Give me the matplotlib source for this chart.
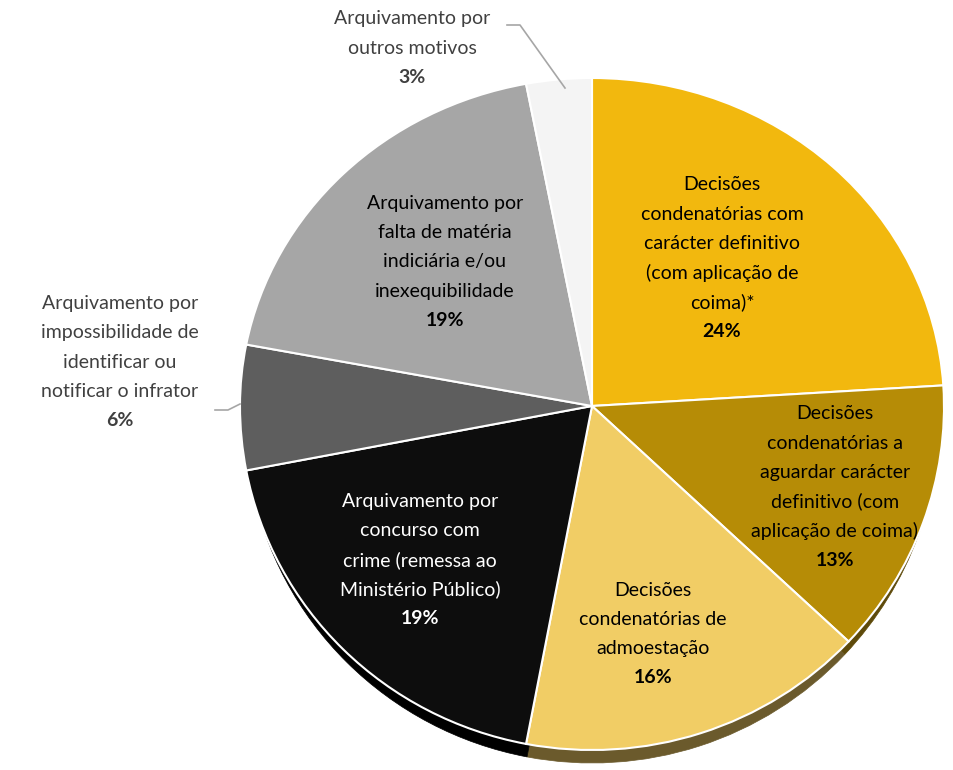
import numpy as np
import matplotlib
matplotlib.use("Agg")
import matplotlib.pyplot as plt
from matplotlib.patches import PathPatch
from matplotlib.path import Path

plt.rcParams['font.family'] = ['Lato', 'DejaVu Sans']

# shares of each outcome (%)
categories = [
    "Decisões\ncondenatórias com\ncarácter definitivo\n(com aplicação de\ncoima)*",
    "Decisões\ncondenatórias a\naguardar carácter\ndefinitivo (com\naplicação de coima)",
    "Decisões\ncondenatórias de\nadmoestação",
    "Arquivamento por\nconcurso com\ncrime (remessa ao\nMinistério Público)",
    "Arquivamento por\nimpossibilidade de\nidentificar ou\nnotificar o infrator",
    "Arquivamento por\nfalta de matéria\nindiciária e/ou\ninexequibilidade",
    "Arquivamento por\noutros motivos",
]
values = [24, 13, 16, 19, 6, 19, 3]
pct_labels = ["24%", "13%", "16%", "19%", "6%", "19%", "3%"]

colors = ["#F2B80E", "#B68C06", "#F1CD65", "#0D0D0D", "#5E5E5E", "#A6A6A6", "#F4F4F4"]
side_colors = ["#7A6118", "#5E4A0A", "#6B5A2C", "#000000", "#2E2E2E", "#555555", "#9A9A9A"]
text_colors = ["#000000", "#000000", "#000000", "#FFFFFF", "#404040", "#000000", "#404040"]
# label centres in figure pixels (x, y from top)
label_pos = [(722, 258), (835, 487), (653, 634), (420, 560), (120, 362), (445, 262), (412, 48)]

W, H = 954, 770
fig = plt.figure(figsize=(W / 100, H / 100), dpi=100)
ax = fig.add_axes([0, 0, 1, 1])

# tilted pie: vertex, horizontal radius, upper / lower vertical radius (pixels)
cx, cy, rx, ry_top, ry_bot = 592, 406, 352, 328, 344
depth = 13

wedges, _ = ax.pie(values, startangle=90, counterclock=False, radius=1.0)
paths = [w.get_path() for w in wedges]
for w in wedges:
    w.remove()


def to_pix(path, dy=0, sx=1.0):
    v = path.vertices.copy()
    x = cx + v[:, 0] * rx * sx
    y = cy - np.where(v[:, 1] > 0, v[:, 1] * ry_top, v[:, 1] * ry_bot) + dy
    return Path(np.column_stack([x, y]), path.codes)


# side of the 3D disc, then the top face
for p, c in zip(paths, side_colors):
    ax.add_patch(PathPatch(to_pix(p, depth, 0.985), facecolor=c, edgecolor=c, linewidth=0.5))
for p, c in zip(paths, colors):
    ax.add_patch(PathPatch(to_pix(p), facecolor=c, edgecolor="white", linewidth=1.5))

ax.set_xlim(0, W)
ax.set_ylim(H, 0)
ax.set_aspect('auto')
ax.axis('off')

fs = 14
lh = 29.3
for cat, pct, (px, py), tc in zip(categories, pct_labels, label_pos, text_colors):
    lines = (cat + "\n" + pct).split("\n")
    n = len(lines)
    top = py - (n - 1) * lh / 2
    for i, ln in enumerate(lines):
        ax.text(px, top + i * lh, ln, ha="center", va="center",
                fontsize=fs, color=tc,
                fontweight="bold" if i == n - 1 else "normal")

# leader lines
ax.plot([215, 228, 240], [410, 410, 404], color="#A6A6A6", linewidth=1.2)
ax.plot([507, 520, 565], [25, 25, 88], color="#A6A6A6", linewidth=1.2)

fig.savefig("out.png", dpi=100)
